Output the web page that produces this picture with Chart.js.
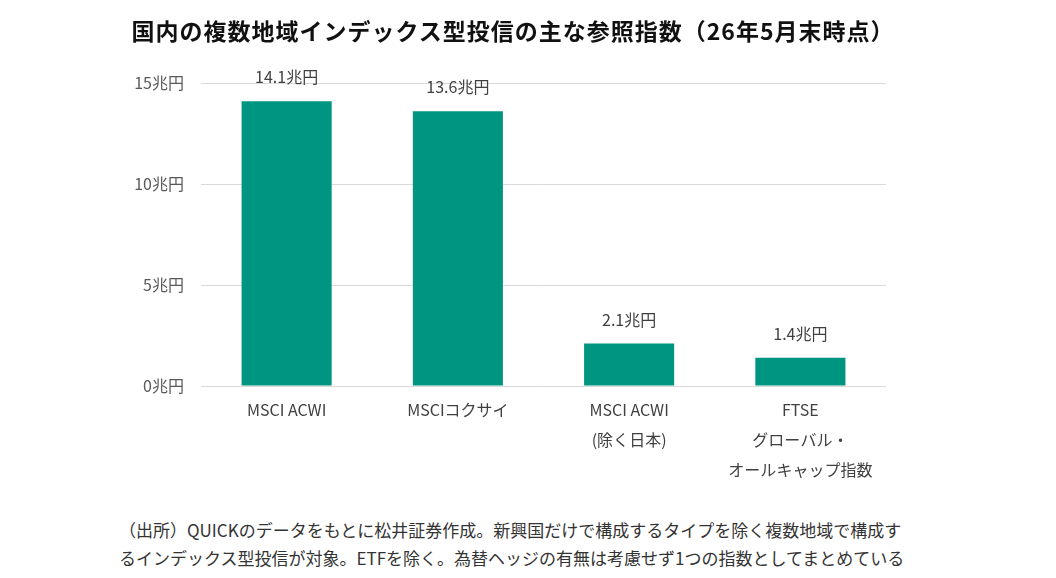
<!DOCTYPE html>
<html lang="ja">
<head>
<meta charset="utf-8">
<script src="https://cdn.jsdelivr.net/npm/chart.js@4.4.1/dist/chart.umd.min.js"></script>
<style>
  html, body { margin: 0; padding: 0; background: #fff; }
  body { width: 1056px; height: 578px; position: relative; overflow: hidden;
         font-family: "Noto Sans CJK JP", "Noto Sans", sans-serif; }
  #title { position: absolute; left: 0; top: 13px; width: 1026px; text-align: center;
           font-size: 23px; font-weight: bold; color: #111; line-height: 34px; white-space: nowrap;
           letter-spacing: 1px; }
  #wrap { position: absolute; left: 0; top: 0; width: 1056px; height: 500px; }
  #note { position: absolute; left: 119px; top: 516px; font-size: 17px; line-height: 28px;
          color: #333; white-space: nowrap; }
</style>
</head>
<body>
<div id="wrap"><canvas id="c" width="1056" height="500"></canvas></div>
<div id="title">国内の複数地域インデックス型投信の主な参照指数（26年5月末時点）</div>
<div id="note">（出所）QUICKのデータをもとに松井証券作成。新興国だけで構成するタイプを除く複数地域で構成す<br>るインデックス型投信が対象。ETFを除く。為替ヘッジの有無は考慮せず1つの指数としてまとめている</div>
<script>
const categories = [
  ["MSCI ACWI"],
  ["MSCIコクサイ"],
  ["MSCI ACWI", "(除く日本)"],
  ["FTSE", "グローバル・", "オールキャップ指数"]
];
const values = [14.1, 13.6, 2.1, 1.4];
const yTicks = [0, 5, 10, 15];
const unit = "兆円";

const FONT = '"Noto Sans CJK JP", "Noto Sans", sans-serif';

const valueLabels = {
  id: 'valueLabels',
  afterDatasetsDraw(chart) {
    const ctx = chart.ctx;
    const meta = chart.getDatasetMeta(0);
    ctx.save();
    ctx.font = '16px ' + FONT;
    ctx.fillStyle = '#404040';
    ctx.textAlign = 'center';
    ctx.textBaseline = 'middle';
    meta.data.forEach((bar, i) => {
      ctx.fillText(values[i].toFixed(1) + unit, bar.x, bar.y - 24);
    });
    ctx.restore();
  }
};

new Chart(document.getElementById('c'), {
  type: 'bar',
  data: {
    labels: categories,
    datasets: [{
      data: values,
      backgroundColor: '#009580',
      borderWidth: 0,
      barPercentage: 0.526,
      categoryPercentage: 1.0
    }]
  },
  options: {
    responsive: false,
    animation: false,
    devicePixelRatio: 1,
    layout: { padding: { left: 0, right: 170, top: 83, bottom: 0 } },
    plugins: {
      legend: { display: false },
      title: { display: false },
      tooltip: { enabled: false }
    },
    scales: {
      y: {
        min: 0, max: 15,
        afterFit(s) { s.width = 201; },
        afterBuildTicks(s) { s.ticks = yTicks.map(v => ({ value: v })); },
        ticks: {
          padding: 17,
          color: '#595959',
          font: { family: FONT, size: 16 },
          callback: v => v + unit
        },
        grid: { color: '#d9d9d9', lineWidth: 1, drawTicks: false },
        border: { display: false }
      },
      x: {
        afterFit(s) { s.height = 114; },
        ticks: {
          padding: 9,
          color: '#404040',
          font: { family: FONT, size: 16, lineHeight: '30px' },
          maxRotation: 0, autoSkip: false
        },
        grid: { display: false, drawTicks: false },
        border: { display: false }
      }
    }
  },
  plugins: [valueLabels]
});
</script>
</body>
</html>
